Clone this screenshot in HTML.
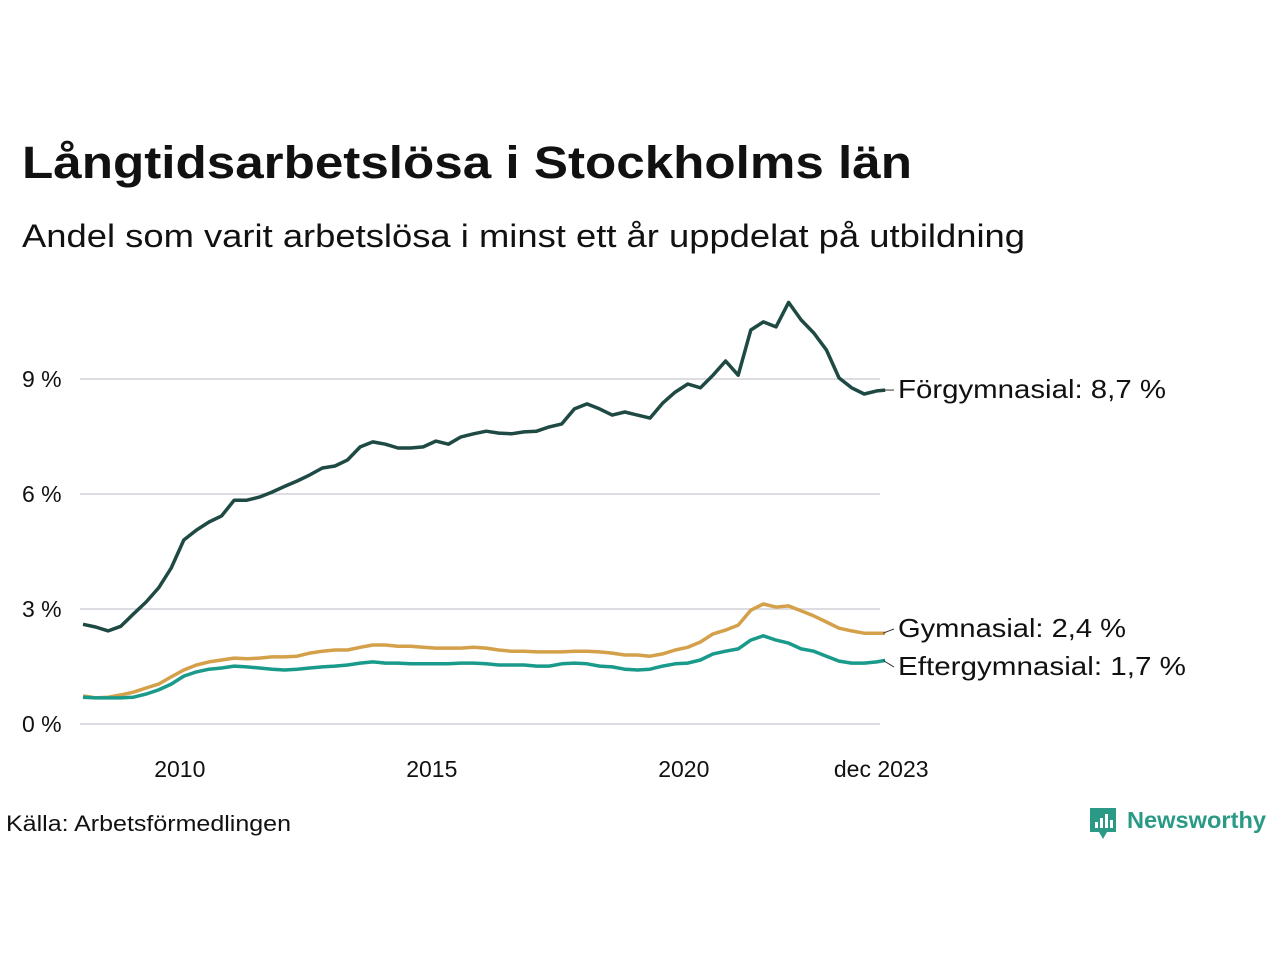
<!DOCTYPE html>
<html><head><meta charset="utf-8">
<style>
body{margin:0;background:#fff;width:1280px;height:960px;overflow:hidden;font-family:"Liberation Sans","DejaVu Sans",sans-serif;}
svg{position:absolute;left:0;top:0}
</style></head>
<body>
<svg width="1280" height="960">
<text x="22" y="178" font-size="45" font-weight="bold" fill="#111" textLength="890" lengthAdjust="spacingAndGlyphs">Långtidsarbetslösa i Stockholms län</text>
<text x="22" y="247" font-size="32" fill="#111" textLength="1003" lengthAdjust="spacingAndGlyphs">Andel som varit arbetslösa i minst ett år uppdelat på utbildning</text>
<g id="grid"></g><g id="lines"></g><g id="labels"></g>
<text x="6" y="831" font-size="22" fill="#111" textLength="285" lengthAdjust="spacingAndGlyphs">Källa: Arbetsförmedlingen</text>
<g>
<path d="M1090 808h26v24h-9l-4 7-4-7h-9z" fill="#2a9a86"/>
<rect x="1095" y="822" width="3" height="6" fill="#fff"/><rect x="1100" y="818" width="3" height="10" fill="#fff"/><rect x="1105" y="814" width="3" height="14" fill="#fff"/><rect x="1110" y="820" width="3" height="8" fill="#fff"/>
<text x="1127" y="828" font-size="23" font-weight="bold" fill="#2a9a86" textLength="139" lengthAdjust="spacingAndGlyphs">Newsworthy</text>
</g>
</svg>
<script>
const years=[];for(let i=0;i<64;i++)years.push(2008+i*0.25);years.push(2023.917);
const forgymnasial=[2.6,2.53,2.43,2.55,2.87,3.18,3.55,4.07,4.8,5.06,5.27,5.43,5.84,5.84,5.92,6.05,6.2,6.34,6.5,6.68,6.73,6.89,7.23,7.36,7.3,7.2,7.2,7.23,7.38,7.3,7.49,7.57,7.64,7.59,7.57,7.62,7.64,7.75,7.83,8.22,8.35,8.22,8.06,8.14,8.06,7.98,8.37,8.66,8.87,8.77,9.1,9.47,9.1,10.28,10.49,10.36,11.0,10.54,10.2,9.76,9.03,8.77,8.61,8.69,8.71];
const gymnasial=[0.73,0.68,0.7,0.76,0.83,0.94,1.04,1.23,1.41,1.54,1.62,1.67,1.72,1.7,1.72,1.75,1.75,1.77,1.85,1.9,1.93,1.93,2.0,2.06,2.06,2.03,2.03,2.0,1.98,1.98,1.98,2.0,1.98,1.93,1.9,1.9,1.88,1.88,1.88,1.9,1.9,1.88,1.85,1.8,1.8,1.77,1.83,1.93,2.0,2.14,2.35,2.45,2.58,2.97,3.13,3.05,3.08,2.95,2.82,2.66,2.5,2.43,2.37,2.37,2.37];
const eftergymnasial=[0.7,0.68,0.68,0.68,0.7,0.78,0.89,1.04,1.25,1.36,1.43,1.46,1.51,1.49,1.46,1.43,1.41,1.43,1.46,1.49,1.51,1.54,1.59,1.62,1.59,1.59,1.57,1.57,1.57,1.57,1.59,1.59,1.57,1.54,1.54,1.54,1.51,1.51,1.57,1.59,1.57,1.51,1.49,1.43,1.41,1.43,1.51,1.57,1.59,1.67,1.83,1.9,1.96,2.19,2.3,2.19,2.11,1.96,1.9,1.77,1.64,1.59,1.59,1.62,1.66];
const yTicks=[0,3,6,9];const yTickLabels=["0 %","3 %","6 %","9 %"];
const xTicks=[2010,2015,2020,2023.917];const xTickLabels=["2010","2015","2020","dec 2023"];
const seriesNames=["Förgymnasial: 8,7 %","Gymnasial: 2,4 %","Eftergymnasial: 1,7 %"];
const X=v=>83+(v-2008)*50.4, Y=v=>724-v*38.33;
const NS="http://www.w3.org/2000/svg";
function mk(t,a,p){const e=document.createElementNS(NS,t);for(const k in a)e.setAttribute(k,a[k]);p.appendChild(e);return e;}
const grid=document.getElementById('grid');
yTicks.forEach((t,i)=>{
 const l=mk('line',{x1:80,x2:880,y1:Y(t),y2:Y(t),stroke:'#dcdce2','stroke-width':2},grid);
 
 
 const tx=mk('text',{x:22,y:Y(t)+8,'font-size':23,fill:'#111'},grid);tx.textContent=yTickLabels[i];
 
 
});
xTicks.forEach((t,i)=>{
 const tx=mk('text',{x:X(t)-4,y:777,'font-size':23,fill:'#111','text-anchor':'middle'},grid);tx.textContent=xTickLabels[i];
 
 
});
const lines=document.getElementById('lines'),labels=document.getElementById('labels');
const labelW=[268,228,288];
const series=[[forgymnasial,'#1f4a44','line-forgymnasial',398],[gymnasial,'#d4a04a','line-gymnasial',637],[eftergymnasial,'#1a9a8a','line-eftergymnasial',675]];
series.forEach((s,i)=>{
 const d=s[0].map((v,j)=>(j?'L':'M')+X(years[j]).toFixed(1)+' '+Y(v).toFixed(1)).join('');
 const p=mk('path',{d:d,fill:'none',stroke:s[1],'stroke-width':3.5,'stroke-linejoin':'round'},lines);
 
 
 const last=s[0][s[0].length-1];
 mk('line',{x1:883,y1:Y(last),x2:894,y2:s[3]-8,stroke:'#333','stroke-width':1},labels);
 const tx=mk('text',{x:898,y:s[3],'font-size':26,fill:'#111',textLength:labelW[i],lengthAdjust:'spacingAndGlyphs'},labels);tx.textContent=seriesNames[i];
 
 
});
</script>
</body></html>
